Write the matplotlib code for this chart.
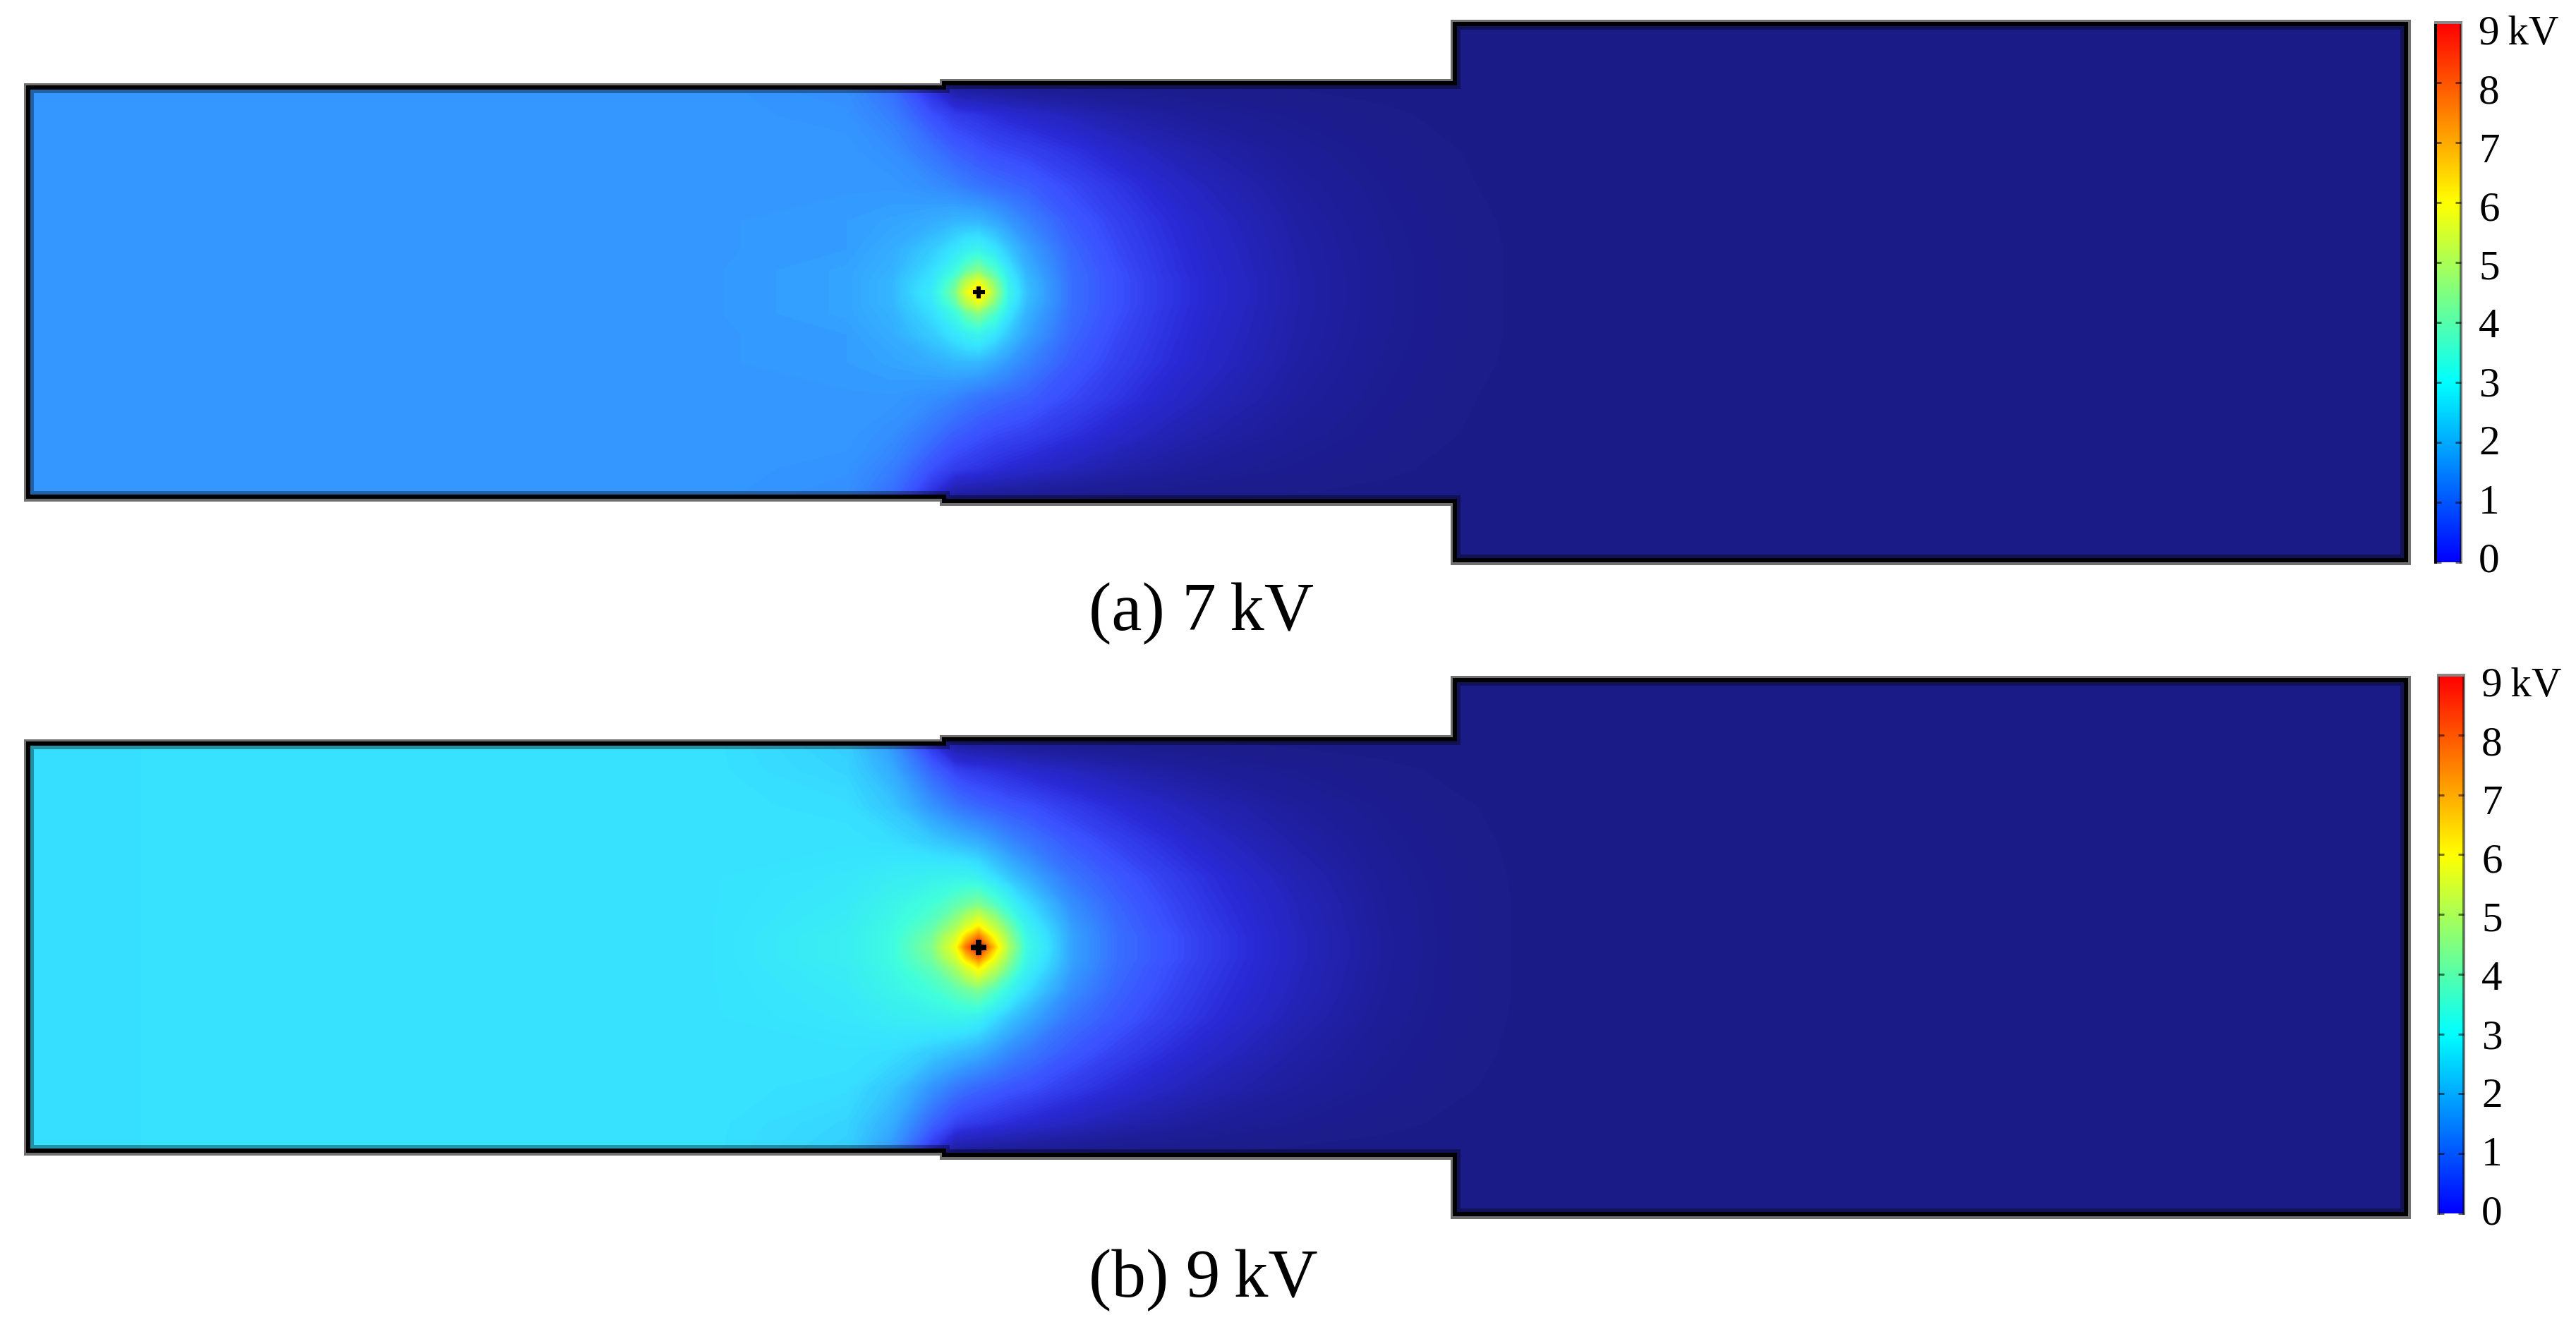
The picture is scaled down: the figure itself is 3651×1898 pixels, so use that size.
import numpy as np
import matplotlib
matplotlib.use('Agg')
import matplotlib.pyplot as plt
from matplotlib.cm import ScalarMappable
from matplotlib.colors import LinearSegmentedColormap, Normalize
from matplotlib.patches import Polygon

plt.rcParams['font.family'] = ['Liberation Serif', 'DejaVu Serif']

FIG_W = 3651
FIG_H = 1899
PX = 72.0 / 100  # one pixel in points at dpi 100

# potential in kV, one half of the channel only (it is symmetric)
x_nodes = [0, 960, 1160, 1224, 1281, 1313, 1329, 1347, 1370, 1390, 1415, 1479, 1543, 1606, 1670, 1798, 1925, 2021, 2150, 3370]
y_nodes = [0, 15, 30, 60, 100, 150, 200, 250, 285, 300, 381]

field_7kv = [
    [1.9, 1.9, 2.0, 2.2, 2.8, 4.0, 5.5, 7.0, 4.5, 3.0, 2.3, 1.5, 1.2, .95, .75, .42, .2, .08, 0, 0],
    [1.9, 1.9, 2.0, 2.2, 2.7, 3.7, 4.8, 5.6, 4.1, 2.9, 2.25, 1.5, 1.2, .95, .75, .42, .2, .08, 0, 0],
    [1.9, 1.9, 2.0, 2.15, 2.6, 3.2, 3.8, 4.2, 3.5, 2.7, 2.15, 1.48, 1.18, .93, .73, .41, .2, .08, 0, 0],
    [1.9, 1.9, 1.95, 2.1, 2.4, 2.7, 2.9, 3.0, 2.7, 2.35, 2.0, 1.42, 1.12, .9, .7, .4, .19, .08, 0, 0],
    [1.9, 1.9, 1.95, 2.0, 2.1, 2.2, 2.2, 2.2, 2.05, 1.9, 1.7, 1.3, 1.05, .85, .66, .37, .17, .07, 0, 0],
    [1.9, 1.9, 1.9, 1.9, 1.8, 1.7, 1.62, 1.55, 1.48, 1.42, 1.36, 1.12, .92, .72, .56, .31, .14, .05, 0, 0],
    [1.9, 1.9, 1.9, 1.8, 1.55, 1.35, 1.3, 1.22, 1.14, 1.1, 1.05, .88, .7, .54, .42, .23, .1, .04, 0, 0],
    [1.9, 1.9, 1.85, 1.65, 1.2, 1.0, .95, .9, .82, .76, .7, .55, .42, .32, .24, .13, .05, .02, 0, 0],
    [1.9, 1.9, 1.8, 1.5, .85, .4, .36, .33, .3, .27, .24, .19, .15, .11, .08, .04, .02, .01, 0, 0],
    [1.9, 1.9, 1.8, 1.5, .6, .1, .08, .07, .06, .05, .04, .03, .02, .02, .01, 0, 0, 0, 0, 0],
    [0] * 20,
]

field_9kv = [
    [2.62, 2.65, 2.9, 3.2, 4.1, 5.7, 7.6, 9.0, 6.6, 4.6, 3.2, 2.0, 1.5, 1.25, 1.0, .6, .28, .1, 0, 0],
    [2.62, 2.65, 2.9, 3.2, 3.95, 5.2, 6.5, 7.6, 5.8, 4.3, 3.1, 2.0, 1.5, 1.25, 1.0, .6, .28, .1, 0, 0],
    [2.62, 2.65, 2.85, 3.15, 3.7, 4.5, 5.3, 6.1, 4.9, 3.9, 2.95, 1.95, 1.47, 1.2, .97, .58, .27, .1, 0, 0],
    [2.62, 2.65, 2.8, 3.05, 3.35, 3.7, 3.9, 4.1, 3.6, 3.1, 2.6, 1.8, 1.4, 1.15, .92, .56, .26, .1, 0, 0],
    [2.62, 2.65, 2.75, 2.85, 2.95, 3.0, 3.0, 2.9, 2.6, 2.35, 2.1, 1.55, 1.28, 1.05, .85, .5, .23, .09, 0, 0],
    [2.62, 2.65, 2.65, 2.6, 2.4, 2.25, 2.18, 2.1, 1.92, 1.75, 1.6, 1.28, 1.05, .86, .68, .39, .18, .07, 0, 0],
    [2.62, 2.65, 2.6, 2.35, 1.85, 1.6, 1.5, 1.42, 1.34, 1.26, 1.2, .98, .8, .64, .5, .29, .13, .05, 0, 0],
    [2.62, 2.65, 2.5, 2.1, 1.4, 1.08, 1.0, .95, .88, .82, .75, .6, .47, .36, .27, .15, .06, .02, 0, 0],
    [2.62, 2.65, 2.45, 1.9, .95, .42, .38, .35, .32, .29, .26, .2, .15, .11, .07, .03, .01, 0, 0, 0],
    [2.62, 2.65, 2.45, 1.9, .7, .1, .09, .08, .07, .06, .05, .04, .03, .02, .01, 0, 0, 0, 0, 0],
    [0] * 20,
]

source_x = 1347
channel_x = [0, 1298, 2022, 3370]
channel_half = [290, 296, 380]

cbar_ticks = [0, 1, 2, 3, 4, 5, 6, 7, 8, 9]
cbar_labels = ['0', '1', '2', '3', '4', '5', '6', '7', '8', '9\u2009kV']
captions = ['(a) 7\u2009kV', '(b) 9\u2009kV']

# the surface is drawn darker than the legend strip, so it gets its own colours
field_stops = [(0, '#1b1b87'), (.3, '#1e1e9c'), (.8, '#2a2ad8'), (1.2, '#3a50ff'), (1.9, '#3399ff'),
               (2.65, '#36e3ff'), (3.3, '#40ffdc'), (4.5, '#a0ff66'), (6, '#ffff00'), (7, '#ffaa00'),
               (8, '#ff5500'), (9, '#ee1100')]
field_cmap = LinearSegmentedColormap.from_list('field', [(v / 9.0, c) for v, c in field_stops], N=512)
strip_cmap = LinearSegmentedColormap.from_list('strip', ['#0000ff', '#00ffff', '#ffff00', '#ff0000'], N=512)
norm = Normalize(0, 9)


def pxAxes(fig, left, top, right, bottom):
    return fig.add_axes([left / FIG_W, 1 - bottom / FIG_H, (right - left) / FIG_W, (bottom - top) / FIG_H])


def outline():
    x0, x1, x2, x3 = channel_x
    h0, h1, h2 = channel_half
    return [(x0, -h0), (x1, -h0), (x1, -h1), (x2, -h1), (x2, -h2), (x3, -h2),
            (x3, h2), (x2, h2), (x2, h1), (x1, h1), (x1, h0), (x0, h0)]


def drawField(fig, field, top, bottom, marker_size):
    ax = pxAxes(fig, 40, top, 3410, bottom)
    half = np.array(field, dtype=float)
    ynode = np.array(y_nodes, dtype=float)
    yy = np.r_[-ynode[:0:-1], ynode]
    zz = np.vstack([half[:0:-1], half])

    ax.add_patch(Polygon(outline(), closed=True, fc='none', ec='#707070', lw=13 * PX, joinstyle='miter', clip_on=False))
    clip = Polygon(outline(), closed=True, fc='none', ec='none', transform=ax.transData)
    ax.add_patch(clip)
    cs = ax.contourf(x_nodes, yy, zz, levels=np.linspace(0, 9, 241), cmap=field_cmap, norm=norm, antialiased=False)
    cs.set_clip_path(clip)

    shade = Polygon(outline(), closed=True, fc='none', ec=(0, 0, 0, .35), lw=16 * PX, joinstyle='miter')
    ax.add_patch(shade)
    shade.set_clip_path(clip)
    ax.add_patch(Polygon(outline(), closed=True, fc='none', ec='black', lw=6 * PX, joinstyle='miter', clip_on=False))

    ax.plot([source_x], [0], marker='P', color='black', ms=marker_size * PX, mew=0)
    ax.set_xlim(channel_x[0], channel_x[-1])
    ax.set_ylim(channel_half[-1], -channel_half[-1])
    ax.axis('off')


def drawStrip(fig, left, right, top, bottom, label_top, label_bottom, label_left, left_edge):
    cax = pxAxes(fig, left, top, right, bottom)
    cb = fig.colorbar(ScalarMappable(norm=norm, cmap=strip_cmap), cax=cax)
    cb.outline.set_visible(False)
    cb.set_ticks(cbar_ticks)
    cax.tick_params(axis='y', which='both', direction='in', left=True, right=True, labelleft=False,
                    labelright=False, length=8 * PX, width=3 * PX, color=(0, 0, 0, .55))
    cax.minorticks_off()
    for name, color, width in [('left', left_edge, 4), ('right', (0, 0, 0, .5), 4), ('top', '#888888', 4)]:
        cax.spines[name].set_visible(True)
        cax.spines[name].set_color(color)
        cax.spines[name].set_linewidth(width * PX)

    # labels sit a little off their ticks in the picture, so they get a scale of their own
    lax = pxAxes(fig, label_left, label_top, label_left + 10, label_bottom)
    lax.set_ylim(0, 9)
    lax.set_yticks(cbar_ticks)
    lax.set_yticklabels(cbar_labels, fontsize=42.6)
    lax.yaxis.tick_right()
    lax.tick_params(axis='y', length=0, pad=0)
    lax.set_xticks([])
    for spine in lax.spines.values():
        spine.set_visible(False)
    lax.patch.set_visible(False)
    return cb


if __name__ == "__main__":
    fig = plt.figure(figsize=(FIG_W / 100.0, FIG_H / 100.0), dpi=100, facecolor='white')

    drawField(fig, field_7kv, 35, 795, 17)
    drawField(fig, field_9kv, 965, 1722, 23)

    drawStrip(fig, 3452, 3488, 33, 798, 43, 790, 3503, 'black')
    drawStrip(fig, 3456, 3492, 958, 1721, 967, 1715, 3507, (0, 0, 0, .5))

    fig.text(1543 / FIG_W, 1 - 893 / FIG_H, captions[0], fontsize=70, ha='left', va='baseline')
    fig.text(1543 / FIG_W, 1 - 1838 / FIG_H, captions[1], fontsize=70, ha='left', va='baseline')

    plt.savefig('out.png', dpi=100)
